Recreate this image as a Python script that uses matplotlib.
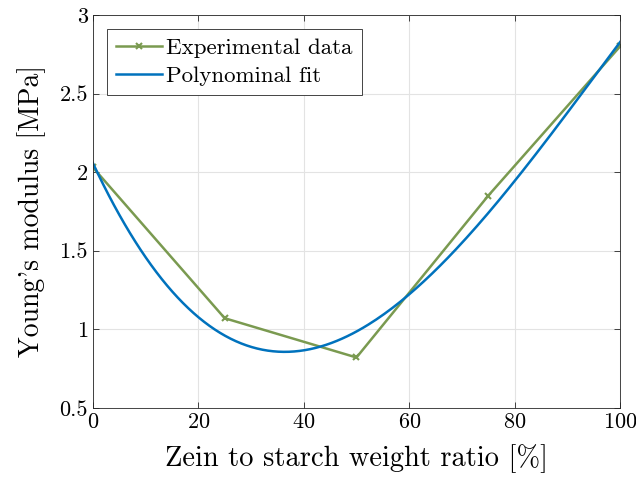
import numpy as np
import matplotlib
matplotlib.use("Agg")
import matplotlib.pyplot as plt

plt.rcParams["font.family"] = "serif"
plt.rcParams["font.serif"] = ["cmr10"]
plt.rcParams["mathtext.fontset"] = "cm"
plt.rcParams["axes.formatter.use_mathtext"] = True

# Données expérimentales
ratio = [0, 25, 50, 75, 100]
modulus = [2.03, 1.07, 0.82, 1.85, 2.80]

# Ajustement polynomial (3e degré)
coeffs = np.polyfit(ratio, modulus, 3)
x_fit = np.linspace(0, 100, 200)
y_fit = np.polyval(coeffs, x_fit)

fig = plt.figure(figsize=(6.36, 4.82), dpi=100)
ax = fig.add_axes([0.146, 0.154, 0.829, 0.815])

ax.plot(ratio, modulus, color="#7a9a50", marker="x", markersize=5,
        markeredgewidth=1.5, linewidth=1.8, label="Experimental data")
ax.plot(x_fit, y_fit, color="#0072bd", linewidth=1.8, label="Polynominal fit")

ax.set_xlim(0, 100)
ax.set_ylim(0.5, 3)
ax.set_xticks([0, 20, 40, 60, 80, 100])
ax.set_yticks([0.5, 1, 1.5, 2, 2.5, 3])
ax.set_yticklabels(["0.5", "1", "1.5", "2", "2.5", "3"])
ax.grid(True, color="#e3e3e3", linewidth=0.8)
ax.set_axisbelow(True)
ax.tick_params(direction="in", top=True, right=True, labelsize=16,
               length=4, color="#262626", width=0.6)
for s in ax.spines.values():
    s.set_color("#262626")
    s.set_linewidth(0.6)

ax.set_xlabel("Zein to starch weight ratio [%]", fontsize=20.5, labelpad=9)
ax.set_ylabel("Young's modulus [MPa]", fontsize=20, labelpad=10)

leg = ax.legend(loc="upper left", fontsize=16.5, fancybox=False, framealpha=1,
                edgecolor="#262626", handlelength=2.0, handletextpad=0.2,
                borderpad=0.4, labelspacing=0.35, borderaxespad=0.6)
leg.get_frame().set_linewidth(0.6)

fig.savefig("out.png", dpi=100)
